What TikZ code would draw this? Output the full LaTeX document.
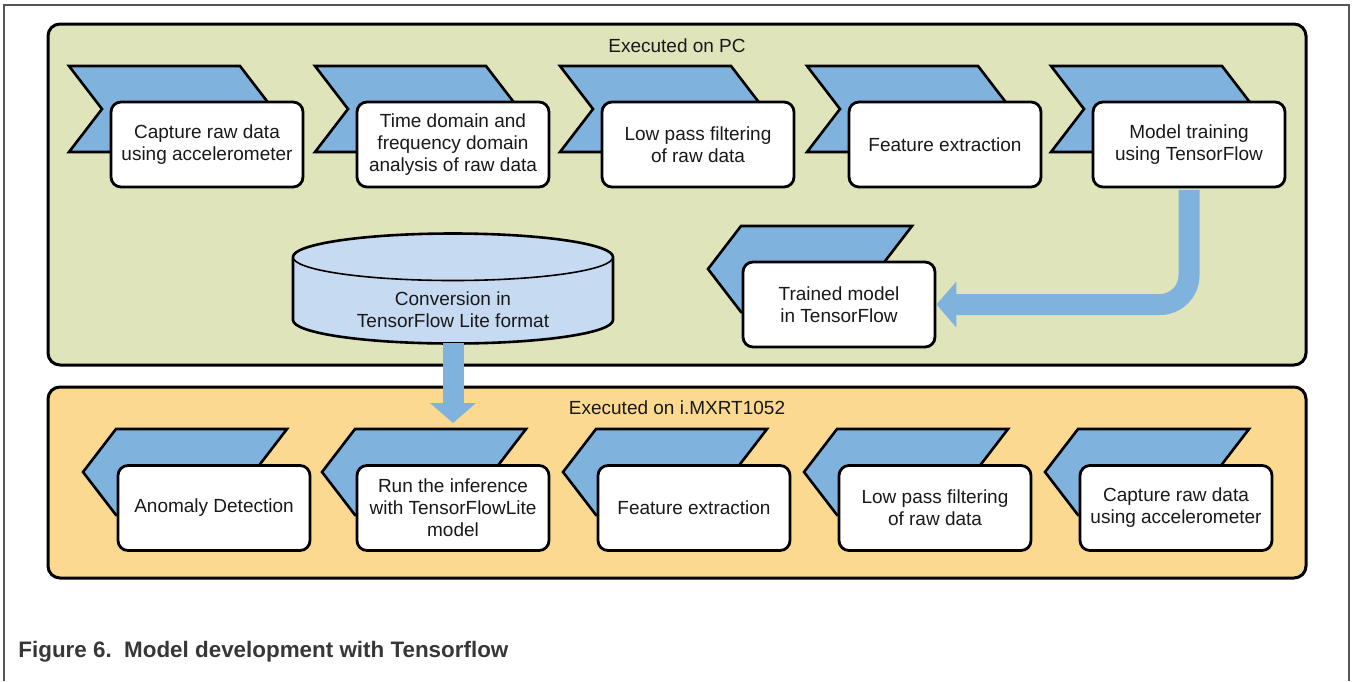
\documentclass[tikz,border=0pt]{standalone}
\usepackage{fontspec}
\setmainfont{Liberation Sans}
\usetikzlibrary{arrows.meta}
\definecolor{pcgreen}{RGB}{224,228,187}
\definecolor{mcuorange}{RGB}{252,217,145}
\definecolor{chevblue}{RGB}{127,178,221}
\definecolor{dbblue}{RGB}{198,218,241}
\definecolor{framegray}{RGB}{85,85,85}
\definecolor{captiongray}{RGB}{55,55,55}
\def\chevr#1#2{\draw[chev] (#1,#2) -- ++(171,0) -- ++(33,43) -- ++(-33,43) -- ++(-171,0) -- ++(33,-43) -- cycle;}
\def\chevl#1#2{\draw[chev] (#1,#2+43) -- ++(33,-43) -- ++(171,0) -- ++(-33,43) -- ++(33,43) -- ++(-171,0) -- cycle;}
\tikzset{
  panel/.style={draw, line width=1.5pt, rounded corners=6pt},
  chev/.style={draw, fill=chevblue, line width=1.3pt, line join=miter},
  stepbox/.style={draw, fill=white, line width=1.4pt, rounded corners=5pt,
    minimum width=96pt, minimum height=42.5pt, align=center, inner sep=2pt},
  bigarrow/.style={draw=chevblue, line width=10.5pt, -{Triangle[width=22.5pt,length=10pt]}},
}
\begin{document}
\begin{tikzpicture}[x=0.5pt,y=-0.5pt,font=\fontsize{9.5}{11}\selectfont,text=black!90]
\useasboundingbox (0,0) rectangle (1352,681);
% outer frame
\draw[framegray,line width=1pt] (4,681) -- (4,5) -- (1349,5) -- (1349,681);
% panels
\draw[panel,fill=pcgreen] (48,24) rectangle (1306,365);
\draw[panel,fill=mcuorange] (48,387) rectangle (1306,578);
\node (pc) at (677,46) {Executed on PC};
\node (mcu) at (677,408) {Executed on i.MXRT1052};
% PC steps
\chevr{69}{66}
\node[stepbox] (capture) at (207,144.5) {Capture raw data\\using accelerometer};
\chevr{315}{66}
\node[stepbox] (analysis) at (453,144.5) {Time domain and\\frequency domain\\analysis of raw data};
\chevr{560}{66}
\node[stepbox] (filtering) at (698,144.5) {Low pass filtering\\of raw data};
\chevr{807}{66}
\node[stepbox] (features) at (945,144.5) {Feature extraction};
\chevr{1051}{66}
\node[stepbox] (training) at (1189,144.5) {Model training\\using TensorFlow};
\chevl{708}{226}
\node[stepbox] (trained) at (839,304.5) {Trained model\\in TensorFlow};
% tflite conversion
\fill[dbblue] (293,257) -- (293,320) arc (180:360:80pt and 11.75pt) -- (613,257) arc (0:180:80pt and 11.75pt) -- cycle;
\draw[line width=1.3pt] (293,257) -- (293,320) arc (180:360:80pt and 11.75pt) -- (613,257) arc (0:180:80pt and 11.75pt) -- cycle;
\draw[line width=0.8pt] (293,257) arc (180:360:80pt and 11.75pt);
\node[align=center] (conv) at (453,309.5) {Conversion in\\TensorFlow Lite format};
\coordinate (convbot) at (453,343);
\coordinate (convtip) at (453,423);
% i.MXRT1052 steps
\chevl{83}{429}
\node[stepbox] (anomaly) at (214,508) {Anomaly Detection};
\chevl{322}{429}
\node[stepbox] (inference) at (453,508) {Run the inference\\with TensorFlowLite\\model};
\chevl{563}{429}
\node[stepbox] (featmcu) at (694,508) {Feature extraction};
\chevl{804}{429}
\node[stepbox] (filtmcu) at (935,508) {Low pass filtering\\of raw data};
\chevl{1045}{429}
\node[stepbox] (capmcu) at (1176,508) {Capture raw data\\using accelerometer};
% flow arrows
\draw[bigarrow,rounded corners=14.5pt,shorten <=0.7pt] (training.south) |- (trained.east);
\draw[bigarrow] (convbot) -- (convtip);
% caption
\node[anchor=west,inner sep=0pt,font=\fontsize{11.2}{13}\selectfont\bfseries,text=captiongray] (caption) at (18,652) {Figure 6.\ \ Model development with Tensorflow};
\end{tikzpicture}
\end{document}
